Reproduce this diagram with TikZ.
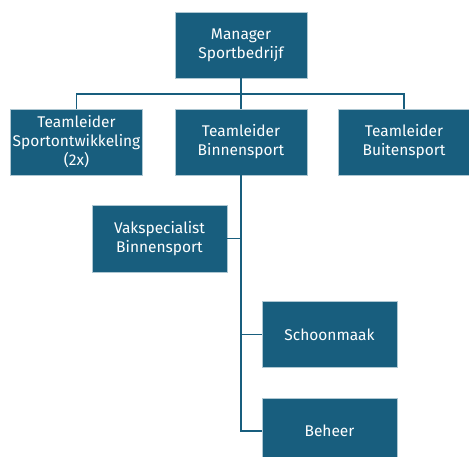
\documentclass[tikz,border=0pt]{standalone}
\usepackage{fontspec}
\setmainfont{Fira Sans}
\definecolor{orgblue}{RGB}{24,94,126}

\begin{document}
\begin{tikzpicture}[x=1pt, y=-1pt,
  unit/.style={fill=orgblue, draw=orgblue!35, line width=.6pt, text=white,
    minimum width=132pt, minimum height=66pt, inner sep=0pt, align=center,
    font=\fontsize{15.5}{19}\selectfont},
  link/.style={orgblue, line width=1.1pt}]
\useasboundingbox (0,0) rectangle (469,457);
% top
\node[unit] (mgr) at (241,45) {Manager\\Sportbedrijf};
% teamleiders
\node[unit] (spo) at (76.5,142) {Teamleider\\Sportontwikkeling\\(2x)};
\node[unit] (bin) at (241,142) {Teamleider\\Binnensport};
\node[unit] (bui) at (404,142) {Teamleider\\Buitensport};
% onder binnensport
\node[unit, minimum width=135pt, minimum height=67pt] (vak) at (159.5,238.5) {Vakspecialist\\Binnensport};
\node[unit, minimum width=135pt] (sch) at (329.5,334.5) {Schoonmaak};
\node[unit, minimum width=135pt] (beh) at (329.5,431) {Beheer};
\coordinate (bus) at (241,94);
\draw[link] (mgr.south) -- (bin.north);
\draw[link] (spo.north) |- (bus) -| (bui.north);
\draw[link] (bin.south) |- (beh.west);
\draw[link] (bin.south |- vak.east) -- (vak.east);
\draw[link] (bin.south |- sch.west) -- (sch.west);
\end{tikzpicture}
\end{document}
